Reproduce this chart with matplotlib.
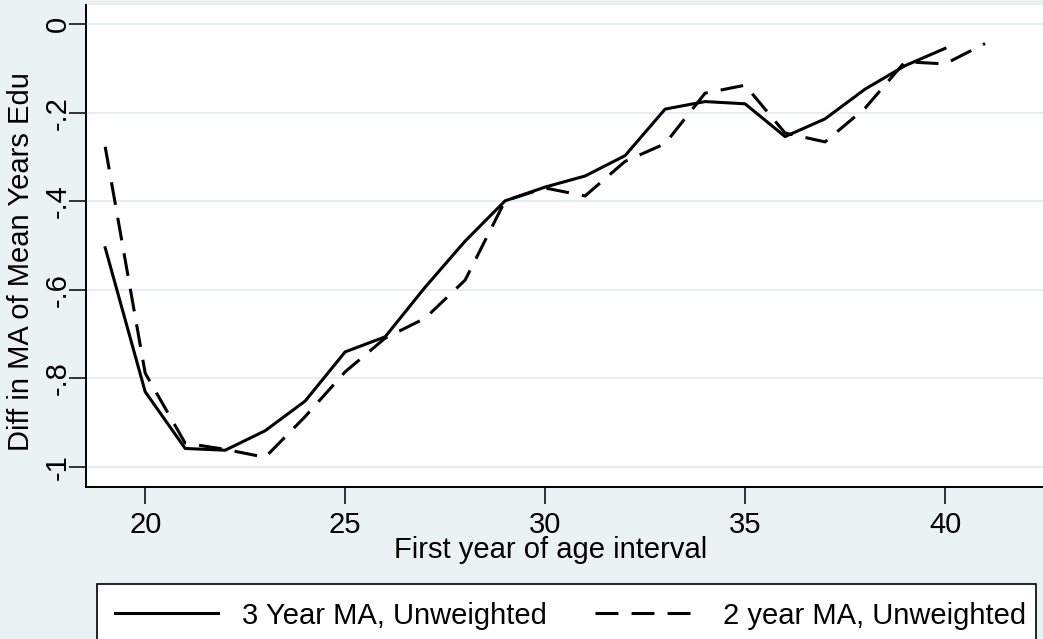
import matplotlib
matplotlib.use("Agg")
import matplotlib.pyplot as plt
from matplotlib.patches import Rectangle

plt.rcParams['font.family'] = ['Liberation Sans', 'DejaVu Sans']

# Data
x_ma3 = [19, 20, 21, 22, 23, 24, 25, 26, 27, 28, 29, 30, 31, 32, 33, 34, 35, 36, 37, 38, 39, 40]
y_ma3 = [-0.505, -0.83, -0.958, -0.962, -0.918, -0.851, -0.74, -0.706, -0.594, -0.49,
         -0.399, -0.368, -0.343, -0.297, -0.192, -0.175, -0.18, -0.254, -0.214, -0.147,
         -0.094, -0.055]
x_ma2 = [19, 20, 21, 22, 23, 24, 25, 26, 27, 28, 29, 30, 31, 32, 33, 34, 35, 36, 37, 38, 39, 40, 41]
y_ma2 = [-0.277, -0.788, -0.946, -0.96, -0.978, -0.886, -0.785, -0.709, -0.664, -0.578,
         -0.399, -0.37, -0.388, -0.31, -0.27, -0.156, -0.138, -0.246, -0.266, -0.19,
         -0.085, -0.09, -0.044]
xticks = [20, 25, 30, 35, 40]
yticks = [-1, -0.8, -0.6, -0.4, -0.2, 0]
ytick_labels = ['-1', '-.8', '-.6', '-.4', '-.2', '0']
series_labels = ['3 Year MA, Unweighted', '2 year MA, Unweighted']

FS = 21
bg = '#EAF2F3'
fig = plt.figure(figsize=(10.43, 6.39), dpi=100, facecolor=bg)
W, H = 1043, 639
ax = fig.add_axes([86 / W, 1 - 487 / H, (W - 86) / W, (487 - 5) / H])
ax.set_facecolor('white')

ax.plot(x_ma3, y_ma3, color='black', lw=2.2, label=series_labels[0])
l2, = ax.plot(x_ma2, y_ma2, color='black', lw=2.2, label=series_labels[1])
l2.set_dashes((7.5, 4.3))

ax.set_xlim(18.52, 42.45)
ax.set_ylim(-1.045, 0.043)
ax.set_xticks(xticks)
ax.set_xticklabels([str(v) for v in xticks], fontsize=FS)
ax.set_yticks(yticks)
ax.set_yticklabels(ytick_labels, fontsize=FS, rotation=90, va='center')
ax.grid(axis='y', color='#E4EDEF', lw=1.5)
ax.set_axisbelow(True)
for s in ['top', 'right']:
    ax.spines[s].set_visible(False)
for s in ['left', 'bottom']:
    ax.spines[s].set_linewidth(1.4)
ax.tick_params(axis='both', length=12, width=1.1, color='black')
ax.tick_params(axis='x', pad=5)
ax.tick_params(axis='y', pad=-1.5)

ax.set_ylabel('Diff in MA of Mean Years Edu', fontsize=FS, va='center', ha='center')
ax.yaxis.set_label_coords((21 - 86) / (W - 86), (487 - 262) / (487 - 5))
ax.set_xlabel('First year of age interval', fontsize=FS, va='center', ha='center')
ax.xaxis.set_label_coords((551 - 86) / (W - 86), (487 - 550) / (487 - 5))

# legend
x0, x1, ytop = 97, 1036, 584
rect = Rectangle((x0 / W, -0.05), (x1 - x0) / W, (1 - ytop / H) + 0.05,
                 transform=fig.transFigure, facecolor='white', edgecolor='black',
                 lw=1.2, clip_on=False, zorder=1)
fig.patches.append(rect)
leg = fig.legend(loc='upper left', bbox_to_anchor=(x0 / W, 1 - ytop / H),
                 ncol=2, frameon=False, fontsize=FS, handlelength=3.55,
                 handletextpad=0.83, columnspacing=1.65, borderpad=0.6,
                 borderaxespad=0.0)

fig.savefig('out.png', dpi=100, facecolor=bg)
